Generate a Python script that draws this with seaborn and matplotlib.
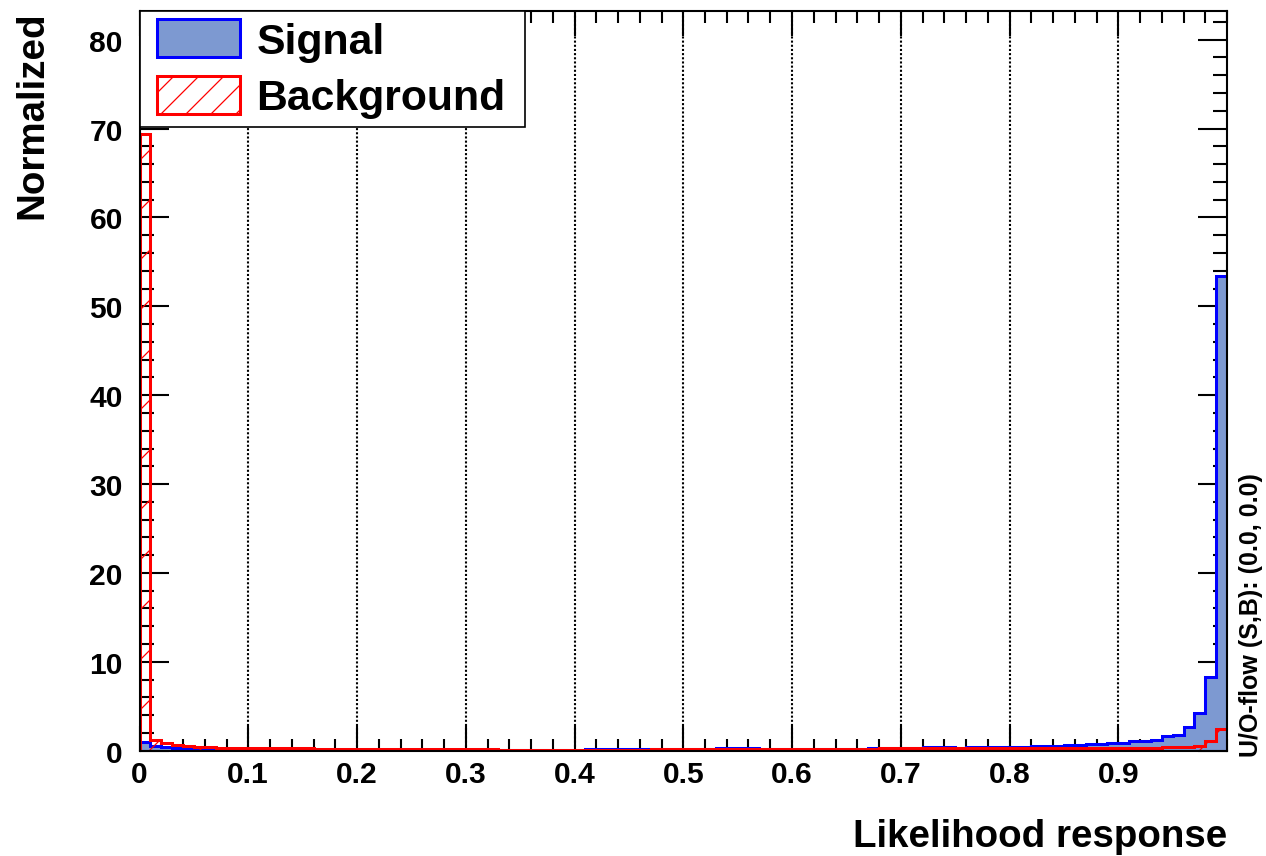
import numpy as np
import pandas as pd
import matplotlib
matplotlib.use("Agg")
import matplotlib.pyplot as plt
from matplotlib.patches import Patch
from matplotlib.legend_handler import HandlerPatch
from matplotlib.ticker import MultipleLocator, FixedLocator, FixedFormatter
import seaborn as sns

# ---------------- data ----------------
n_bins = 100
x_range = (0.0, 1.0)

signal = [
    0.95, 0.55, 0.38, 0.33, 0.26, 0.22, 0.20, 0.16, 0.14, 0.13,
    0.12, 0.11, 0.11, 0.10, 0.10, 0.10, 0.09, 0.09, 0.09, 0.09,
    0.09, 0.09, 0.08, 0.09, 0.09, 0.09, 0.10, 0.10, 0.10, 0.10,
    0.10, 0.11, 0.11, 0.11, 0.12, 0.12, 0.12, 0.12, 0.13, 0.13,
    0.13, 0.14, 0.14, 0.14, 0.15, 0.15, 0.16, 0.16, 0.24, 0.17,
    0.17, 0.18, 0.18, 0.26, 0.27, 0.27, 0.26, 0.19, 0.19, 0.20,
    0.20, 0.21, 0.21, 0.22, 0.22, 0.23, 0.24, 0.25, 0.26, 0.27,
    0.28, 0.30, 0.38, 0.40, 0.40, 0.36, 0.42, 0.44, 0.42, 0.40,
    0.42, 0.47, 0.48, 0.54, 0.56, 0.62, 0.63, 0.73, 0.74, 0.84,
    0.86, 1.07, 1.07, 1.20, 1.60, 1.80, 2.70, 4.25, 8.33, 53.45,
]

background = [
    69.4, 1.25, 0.90, 0.65, 0.50, 0.42, 0.40, 0.33, 0.32, 0.30,
    0.28, 0.27, 0.26, 0.26, 0.25, 0.25, 0.24, 0.23, 0.22, 0.20,
    0.19, 0.19, 0.18, 0.18, 0.18, 0.17, 0.17, 0.17, 0.16, 0.16,
    0.15, 0.15, 0.14, 0.13, 0.13, 0.13, 0.12, 0.12, 0.12, 0.12,
    0.12, 0.12, 0.12, 0.12, 0.13, 0.13, 0.13, 0.14, 0.14, 0.14,
    0.15, 0.15, 0.15, 0.16, 0.16, 0.17, 0.18, 0.19, 0.20, 0.20,
    0.21, 0.21, 0.22, 0.22, 0.23, 0.23, 0.24, 0.24, 0.25, 0.25,
    0.26, 0.26, 0.27, 0.27, 0.27, 0.28, 0.28, 0.28, 0.28, 0.29,
    0.29, 0.29, 0.30, 0.30, 0.30, 0.31, 0.31, 0.32, 0.33, 0.33,
    0.34, 0.34, 0.35, 0.36, 0.38, 0.40, 0.45, 0.58, 1.14, 2.40,
]

series_names = ["Signal", "Background"]
xtick_values = [0.0, 0.1, 0.2, 0.3, 0.4, 0.5, 0.6, 0.7, 0.8, 0.9]
xtick_labels = ["0", "0.1", "0.2", "0.3", "0.4", "0.5", "0.6", "0.7", "0.8", "0.9"]
ytick_values = [0, 10, 20, 30, 40, 50, 60, 70, 80]
ytick_labels = ["0", "10", "20", "30", "40", "50", "60", "70", "80"]
x_label = "Likelihood response"
y_label = "Normalized"
overflow_text = "U/O-flow (S,B): (0.0, 0.0)"

# ---------------- style ----------------
sns.set_style("ticks")
plt.rcParams["font.family"] = ["Liberation Sans", "DejaVu Sans"]
plt.rcParams["font.weight"] = "bold"
plt.rcParams["text.color"] = "black"
plt.rcParams["axes.labelcolor"] = "black"
plt.rcParams["xtick.color"] = "black"
plt.rcParams["ytick.color"] = "black"
plt.rcParams["xtick.labelcolor"] = "black"
plt.rcParams["ytick.labelcolor"] = "black"
plt.rcParams["hatch.linewidth"] = 0.6
plt.rcParams["hatch.color"] = "red"

SIG_FILL = "#7d99d1"
SIG_EDGE = "#0000ff"
BKG_EDGE = "#ff0000"
LW = 1.45

DPI = 150
W, H = 1266, 857
fig = plt.figure(figsize=(W / DPI, H / DPI), dpi=DPI)
fig.patch.set_facecolor("white")
ax_l, ax_r, ax_t, ax_b = 139.5, 1227.0, 11.7, 751.7
ax = fig.add_axes([ax_l / W, 1 - ax_b / H, (ax_r - ax_l) / W, (ax_b - ax_t) / H])
ax.set_facecolor("white")

edges = np.linspace(x_range[0], x_range[1], n_bins + 1)
centers = 0.5 * (edges[:-1] + edges[1:])
df_sig = pd.DataFrame({"x": centers, "w": signal})
df_bkg = pd.DataFrame({"x": centers, "w": background})

# Signal
sns.histplot(data=df_sig, x="x", weights="w", bins=n_bins, binrange=x_range,
             element="step", fill=True, ax=ax, stat="count")
c_sig = ax.collections[-1]
c_sig.set_alpha(1.0)
c_sig.set_facecolor(SIG_FILL)
c_sig.set_edgecolor(SIG_EDGE)
c_sig.set_linewidth(LW)
c_sig.set_joinstyle("miter")
c_sig.set_zorder(2)

# Background
sns.histplot(data=df_bkg, x="x", weights="w", bins=n_bins, binrange=x_range,
             element="step", fill=True, ax=ax, stat="count")
c_bkg = ax.collections[-1]
c_bkg.set_alpha(1.0)
c_bkg.set_facecolor("none")
c_bkg.set_edgecolor(BKG_EDGE)
c_bkg.set_hatch("/")
c_bkg.set_linewidth(LW)
c_bkg.set_joinstyle("miter")
c_bkg.set_zorder(3)

for ln in list(ax.lines):
    ln.remove()

# axes
ax.set_xlim(0, 1)
ax.set_ylim(0, 83.26)
ax.xaxis.set_major_locator(FixedLocator(xtick_values))
ax.xaxis.set_major_formatter(FixedFormatter(xtick_labels))
ax.xaxis.set_minor_locator(MultipleLocator(0.02))
ax.yaxis.set_major_locator(FixedLocator(ytick_values))
ax.yaxis.set_major_formatter(FixedFormatter(ytick_labels))
ax.yaxis.set_minor_locator(MultipleLocator(2))

ax.tick_params(which="both", direction="in", top=True, right=True,
               width=1.0, color="black", labelcolor="black")
ax.tick_params(axis="x", which="major", length=12, labelsize=14.4, pad=4.5)
ax.tick_params(axis="x", which="minor", length=5.8)
ax.tick_params(axis="y", which="major", length=14, labelsize=14.4, pad=8)
ax.tick_params(axis="y", which="minor", length=6.7)
for lab in ax.get_xticklabels() + ax.get_yticklabels():
    lab.set_fontweight("bold")

for sp in ax.spines.values():
    sp.set_visible(True)
    sp.set_linewidth(1.0)
    sp.set_color("black")
    sp.set_zorder(5)

ax.set_axisbelow(True)
ax.xaxis.grid(True, which="major", color="black", linestyle=(0, (1, 1)), linewidth=1.0)
ax.yaxis.grid(False)

ax.set_xlabel(x_label, fontsize=18.5, fontweight="bold", loc="right", color="black")
ax.xaxis.set_label_coords(1.0, (ax_b - 819) / (ax_b - ax_t))
ax.set_ylabel(y_label, fontsize=18.5, fontweight="bold", loc="top", color="black")
ax.yaxis.set_label_coords((50 - ax_l) / (ax_r - ax_l), 1.0)

fig.text(1251 / W, 1 - 757 / H, overflow_text, rotation=90, ha="center",
         va="bottom", fontsize=12.0, fontweight="bold", color="black")

# legend
FS = 20.5
fs_px = FS * DPI / 72.0
handles = [
    Patch(facecolor=SIG_FILL, edgecolor=SIG_EDGE, linewidth=LW),
    Patch(facecolor="white", edgecolor=BKG_EDGE, linewidth=LW, hatch="//"),
]
xpad = 8.5 / fs_px
leg = ax.legend(handles, series_names, loc="upper left",
                bbox_to_anchor=(0, 0, (525 - ax_l) / (ax_r - ax_l), 1.0),
                mode="expand", borderaxespad=0, fancybox=False, frameon=True,
                framealpha=1, edgecolor="black",
                prop={"size": FS, "weight": "bold"},
                handlelength=(83 + 8.5) / fs_px, handleheight=42 / fs_px,
                handletextpad=17 / fs_px, borderpad=0.2, labelspacing=0.33,
                handler_map={Patch: HandlerPatch(xpad=xpad)})
leg.get_frame().set_linewidth(0.8)
leg.set_zorder(10)
for t in leg.get_texts():
    t.set_color("black")

fig.savefig("out.png", dpi=DPI, facecolor="white")
